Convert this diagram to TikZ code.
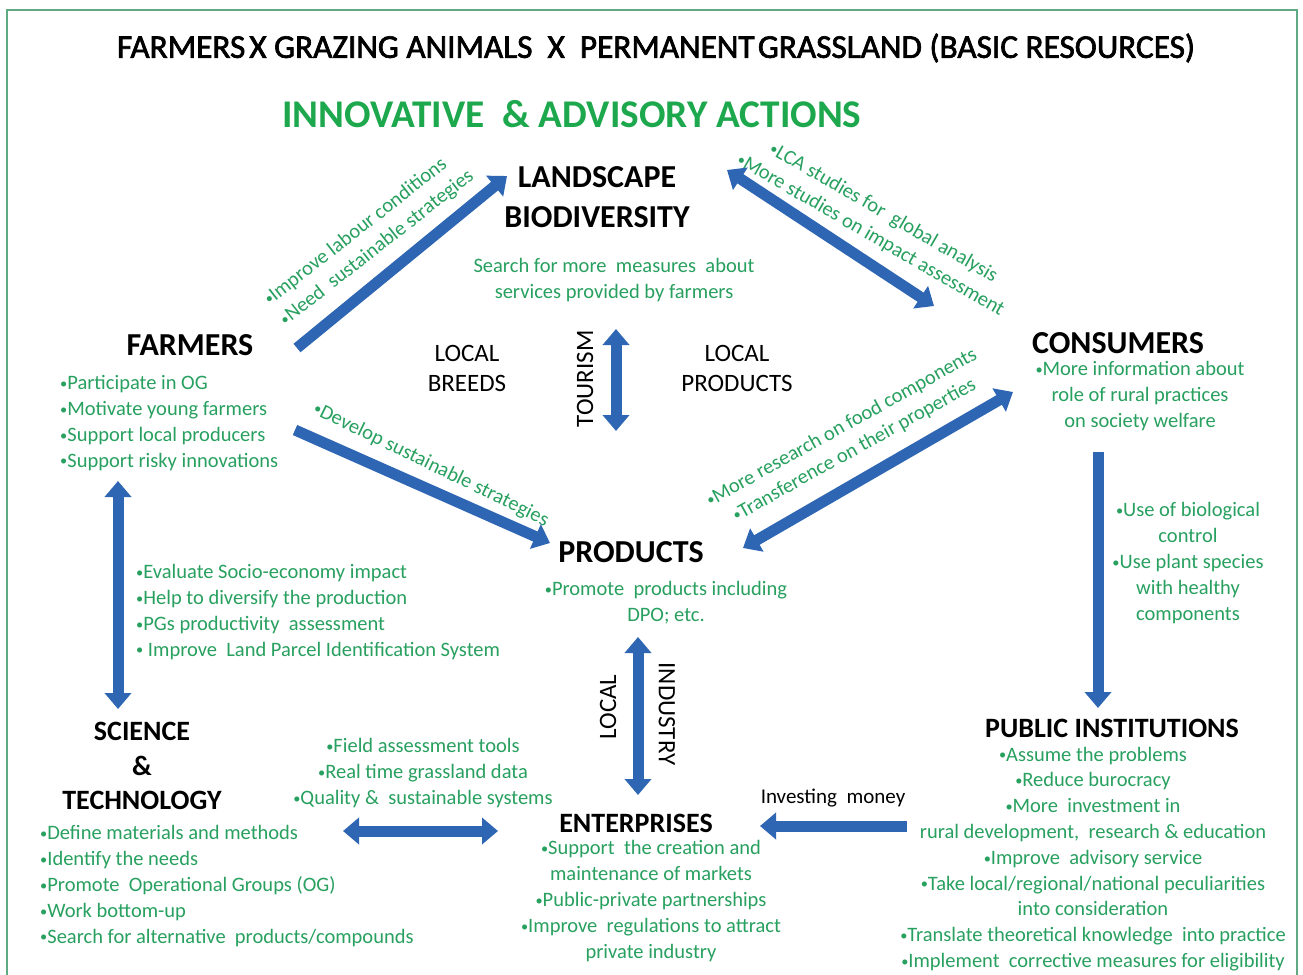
\documentclass[tikz,border=0pt]{standalone}
\usepackage{fontspec}
\usepackage{graphicx}
\setmainfont{Carlito}
\newfontface\titleface{Carlito}[FakeBold=2]
\usetikzlibrary{arrows.meta}
\definecolor{gtext}{RGB}{40,160,95}
\definecolor{gtitle}{RGB}{30,168,78}
\definecolor{ablue}{RGB}{47,102,180}
\definecolor{frame}{RGB}{95,170,130}
\newcommand\bul{\raisebox{0.06em}{\scalebox{0.7}{•}}}
\tikzset{
 hd/.style={inner sep=0, font=\bfseries\fontsize{32}{40}\selectfont, align=center},
 hds/.style={inner sep=0, font=\bfseries\fontsize{28}{34.5}\selectfont, align=center},
 lbl/.style={inner sep=0, font=\fontsize{25}{30}\selectfont, align=center},
 gt/.style={inner sep=0, text=gtext, font=\fontsize{20.5}{25.8}\selectfont},
 arr/.style={draw=ablue, line width=11pt, -{Triangle[length=16pt,width=26pt]}},
 darr/.style={draw=ablue, line width=11pt, {Triangle[length=16pt,width=26pt]}-{Triangle[length=16pt,width=26pt]}},
}
\begin{document}
\begin{tikzpicture}[x=1pt,y=-1pt]
\useasboundingbox (0,0) rectangle (1303,974);
\fill[white] (0,0) rectangle (1303,974);
\draw[frame, line width=2pt] (7,10) rectangle (1297,995);

% titles
\node[inner sep=0] (title) at (656,48) {\resizebox{1078pt}{!}{\titleface\fontsize{32}{36}\selectfont FARMERS\hspace{0.12em}X GRAZING ANIMALS\ \ X\ \ PERMANENT\hspace{0.1em}GRASSLAND (BASIC RESOURCES)}};
\node[inner sep=0, text=gtitle] (subtitle) at (572,114) {\resizebox{579pt}{!}{\bfseries\fontsize{32}{36}\selectfont INNOVATIVE\ \ \&\ ADVISORY ACTIONS}};

% headings
\node[hd] (land) at (597,197) {LANDSCAPE\\BIODIVERSITY};
\node[hd] (farm) at (190,345) {FARMERS};
\node[hd] (cons) at (1118,343) {CONSUMERS};
\node[hd] (prod) at (631,552) {PRODUCTS};
\node[hds] (sci) at (142,766) {SCIENCE\\\&\\TECHNOLOGY};
\node[hds] (pub) at (1112,728) {PUBLIC INSTITUTIONS};
\node[hds] (ent) at (636,823) {ENTERPRISES};

% black labels
\node[lbl] (breeds) at (467,368) {LOCAL\\BREEDS};
\node[lbl] (lprod) at (737,368) {LOCAL\\PRODUCTS};
\node[lbl, rotate=90] (tour) at (585,379) {TOURISM};
\node[lbl, rotate=90] (local) at (608,707) {LOCAL};
\node[lbl, rotate=-90] (indus) at (667,714) {INDUSTRY};
\node[inner sep=0, font=\fontsize{21}{25}\selectfont] (invest) at (833,798) {Investing\ \ money};

% green text blocks
\node[gt, align=center] (search) at (614,280) {Search for more\ \ measures\ \ about\\services provided by farmers};
\node[gt, align=left, anchor=west] (farml) at (60,423) {\bul Participate in OG\\\bul Motivate young\ farmers\\\bul Support\ local producers\\\bul Support\ risky innovations};
\node[gt, align=center] (consl) at (1140,396) {\bul More information about\\role of rural practices\\on society welfare};
\node[gt, align=center] (bio) at (1188,563) {\bul Use of biological\\control\\\bul Use plant species\\with healthy\\components};
\node[gt, align=left, anchor=west] (scil) at (136,612) {\bul Evaluate Socio-economy\ impact\\\bul Help to diversify the production\\\bul PGs productivity\ \ assessment\\\bul\ Improve\ \ Land Parcel Identification System};
\node[gt, align=center] (prodl) at (666,603) {\bul Promote\ \ products including\\DPO; etc.};
\node[gt, align=center] (field) at (423,773) {\bul Field assessment tools\\\bul Real time grassland data\\\bul Quality \&\ \ sustainable systems};
\node[gt, align=left, anchor=west] (scil2) at (40,886) {\bul Define materials and methods\\\bul Identify the needs\\\bul Promote\ \ Operational Groups (OG)\\\bul Work bottom-up\\\bul Search for alternative\ \ products/compounds};
\node[gt, align=center] (entl) at (651,901) {\bul Support\ \ the creation and\\maintenance of markets\\\bul Public-private partnerships\\\bul Improve\ \ regulations to attract\\private industry};
\node[gt, align=center] (publ) at (1093,859) {\bul Assume the problems\\\bul Reduce burocracy\\\bul More\ \ investment in\\rural development,\ \ research \& education\\\bul Improve\ \ advisory service\\\bul Take local/regional/national peculiarities\\into consideration\\\bul Translate theoretical knowledge\ \ into practice\\\bul Implement\ \ corrective measures for eligibility};

% rotated green labels
\node[gt, align=left, rotate=38] (lab1) at (369,238) {\bul Improve labour conditions\\\bul Need\ \ sustainable strategies};
\node[gt, align=center, rotate=-30] (lab2) at (877,224) {\bul LCA studies for\ \ global analysis\\\bul More studies on impact assessment};
\node[gt, rotate=-26] (lab3) at (431,465) {\bul Develop sustainable strategies};
\node[gt, align=center, rotate=29] (lab4) at (848,439) {\bul More research on food components\\\bul Transference on their properties};

% arrow end points
\coordinate (a1s) at (297,348); \coordinate (a1e) at (507,176);
\coordinate (a2s) at (727,170); \coordinate (a2e) at (934,306);
\coordinate (a3s) at (295,430); \coordinate (a3e) at (550,543);
\coordinate (a4s) at (743,548); \coordinate (a4e) at (1013,392);
\coordinate (a5s) at (616,329); \coordinate (a5e) at (616,431);
\coordinate (a6s) at (118,481); \coordinate (a6e) at (118,709);
\coordinate (a7s) at (1098,452); \coordinate (a7e) at (1098,708);
\coordinate (a8s) at (638,637); \coordinate (a8e) at (638,795);
\coordinate (a9s) at (343,831); \coordinate (a9e) at (498,831);
\coordinate (a10s) at (907,826); \coordinate (a10e) at (760,826);

\draw[arr] (a1s) -- (a1e);
\draw[darr] (a2s) -- (a2e);
\draw[arr] (a3s) -- (a3e);
\draw[darr] (a4s) -- (a4e);
\draw[darr] (a5s) -- (a5e);
\draw[darr] (a6s) -- (a6e);
\draw[arr] (a7s) -- (a7e);
\draw[darr] (a8s) -- (a8e);
\draw[darr] (a9s) -- (a9e);
\draw[arr] (a10s) -- (a10e);
\end{tikzpicture}
\end{document}
